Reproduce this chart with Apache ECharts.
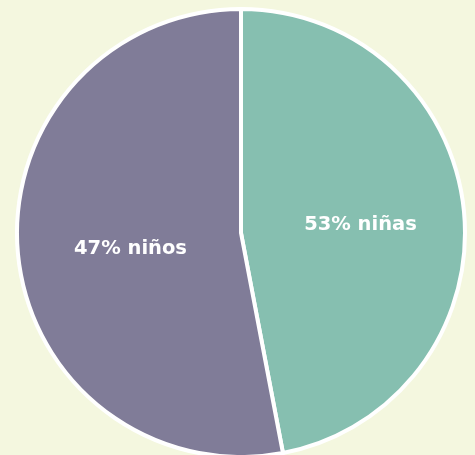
<!DOCTYPE html>
<html><head><meta charset="utf-8">
<script src="https://cdn.jsdelivr.net/npm/echarts@6/dist/echarts.min.js"></script>
<style>html,body{margin:0;padding:0;background:#f4f7df;}#c{width:475px;height:455px;}</style>
</head><body><div id="c"></div>
<script>
const categories = ['niñas', 'niños'];
const sliceValues = [47, 53];
const labelTexts = ['53% niñas', '47% niños'];
const colors = ['#86bfb0', '#807c98'];
const labelOffsets = [[5, 3], [4, 5]];

const chart = echarts.init(document.getElementById('c'), null, {renderer: 'canvas'});
chart.setOption({
  backgroundColor: '#f4f7df',
  animation: false,
  series: [{
    type: 'pie',
    center: [241, 233],
    radius: [0, 224],
    startAngle: 90,
    clockwise: true,
    itemStyle: {borderColor: '#ffffff', borderWidth: 4},
    label: {
      show: true,
      position: 'inside',
      color: '#ffffff',
      fontFamily: 'DejaVu Sans',
      fontWeight: 'bold',
      fontSize: 19.5,
      formatter: p => labelTexts[p.dataIndex]
    },
    labelLine: {show: false},
    data: categories.map((c, i) => ({name: c, value: sliceValues[i], itemStyle: {color: colors[i]}, label: {offset: labelOffsets[i]}}))
  }]
});
</script></body></html>
